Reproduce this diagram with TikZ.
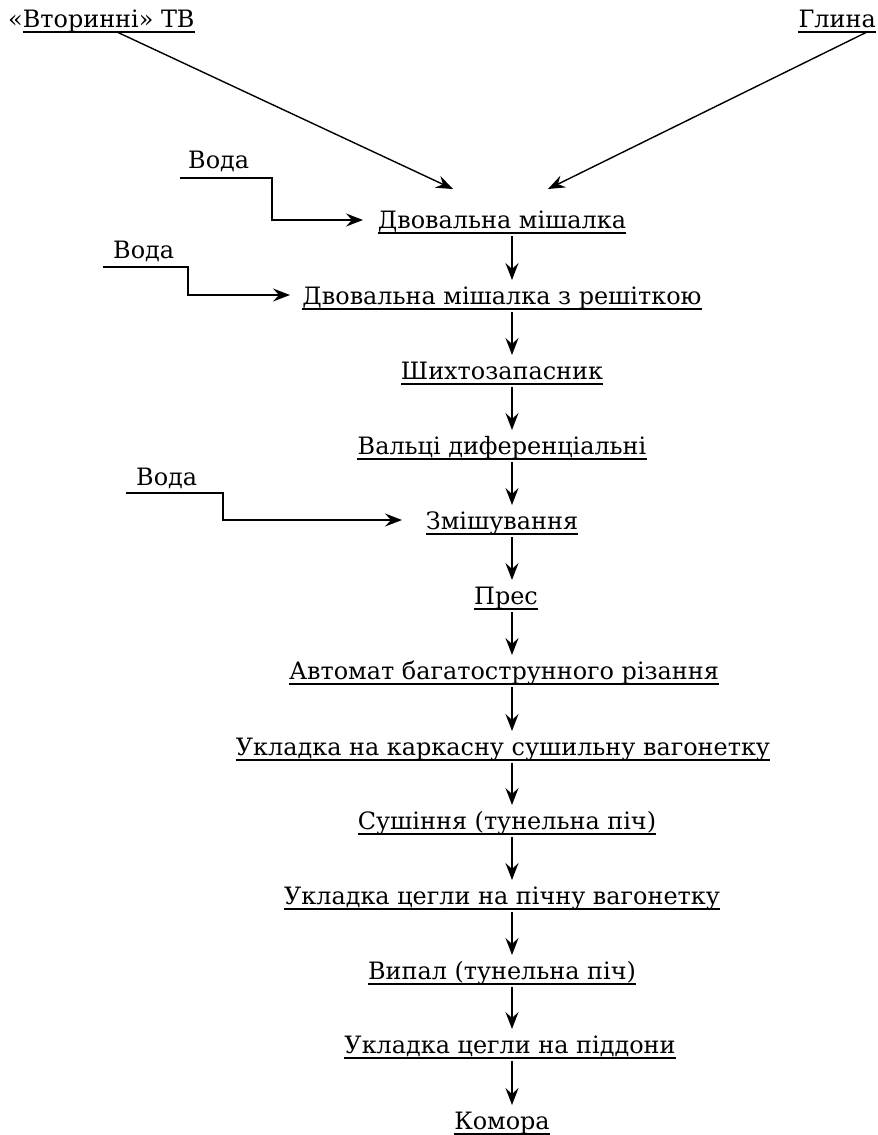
\documentclass[tikz,border=0pt]{standalone}
\usepackage{fontspec}
\setmainfont{DejaVu Serif}
\usetikzlibrary{arrows.meta,calc}
\begin{document}
\begin{tikzpicture}[x=1bp,y=-1bp,
  lbl/.style={inner sep=0pt, anchor=base, font=\fontsize{24}{28}\selectfont},
  ul/.style={append after command={([yshift=-5bp]\tikzlastnode.base west) edge[draw, line width=1.3bp] ([yshift=-5bp]\tikzlastnode.base east)}},
  arr/.style={-{Stealth[length=17bp,width=13bp,inset=6bp]}, line width=1.4bp},
  ln/.style={line width=1.3bp}]
\useasboundingbox (0,0) rectangle (878,1135);
% top inputs
\node[lbl, anchor=base west] (v) at (8,27) {«Вторинні» ТВ};
\draw[ln] ([xshift=15bp,yshift=-5bp]v.base west) -- ([yshift=-5bp]v.base east);
\node[lbl, ul, anchor=base east] (g) at (876,27) {Глина};
% chain
\coordinate (ax) at (512,0);
\node[lbl, ul] (d1) at (502,228) {Двовальна мішалка};
\node[lbl, ul] (d2) at (502,304) {Двовальна мішалка з решіткою};
\node[lbl, ul] (d3) at (502,379) {Шихтозапасник};
\node[lbl, ul] (d4) at (502,454) {Вальці диференціальні};
\node[lbl, ul] (d5) at (502,529) {Змішування};
\node[lbl, ul] (d6) at (506,604) {Прес};
\node[lbl, ul] (d7) at (504,679) {Автомат багатострунного різання};
\node[lbl, ul] (d8) at (503,755) {Укладка на каркасну сушильну вагонетку};
\node[lbl, ul] (d9) at (507,829) {Сушіння (тунельна піч)};
\node[lbl, ul] (d10) at (502,904) {Укладка цегли на пічну вагонетку};
\node[lbl, ul] (d11) at (502,979) {Випал (тунельна піч)};
\node[lbl, ul] (d12) at (510,1053) {Укладка цегли на піддони};
\node[lbl, ul] (d13) at (502,1129) {Комора};
\foreach \a/\b in {d1/d2,d2/d3,d3/d4,d4/d5,d5/d6,d6/d7,d7/d8,d8/d9,d9/d10,d10/d11,d11/d12,d12/d13}
  \draw[arr] ($(\a.base -| ax)+(0,8)$) -- ($(\b.base -| ax)+(0,-24)$);
% diagonal inputs
\coordinate (vs) at (117,32);
\coordinate (gs) at (867,32);
\coordinate (t1) at (453,189);
\coordinate (t2) at (548,189);
\draw[arr] (vs) -- (t1);
\draw[arr] (gs) -- (t2);
% water inputs
\node[lbl, anchor=base west] (w1) at (188,168) {Вода};
\node[lbl, anchor=base west] (w2) at (113,258) {Вода};
\node[lbl, anchor=base west] (w3) at (136,485) {Вода};
\coordinate (w1s) at (180,178);
\coordinate (w2s) at (103,267);
\coordinate (w3s) at (126,493);
\coordinate (w1t) at (363,220);
\coordinate (w2t) at (290,295);
\coordinate (w3t) at (402,520);
\draw[arr] (w1s) -- (272,178) |- (w1t);
\draw[arr] (w2s) -- (188,267) |- (w2t);
\draw[arr] (w3s) -- (223,493) |- (w3t);
\end{tikzpicture}
\end{document}
